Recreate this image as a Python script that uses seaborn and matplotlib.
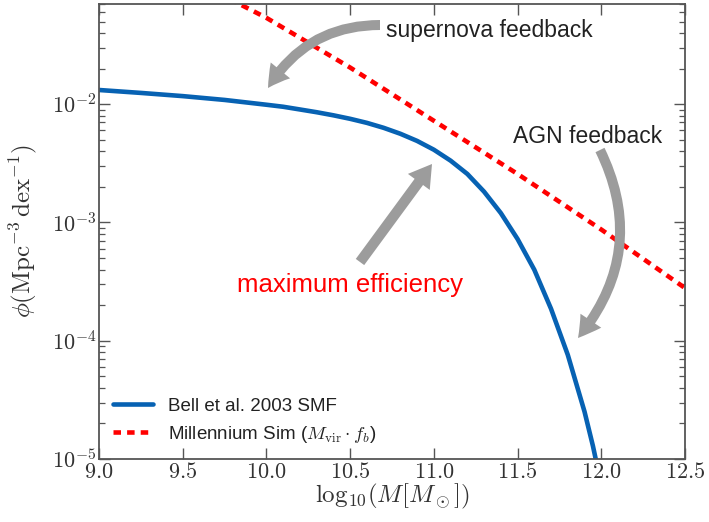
import matplotlib
matplotlib.use("Agg")
import matplotlib.pyplot as plt
import seaborn as sns
from matplotlib.patches import ArrowStyle
from matplotlib.ticker import FixedLocator, FuncFormatter, LogLocator, NullFormatter
import numpy as np

# ---- data ----
bell_logm = [9.0, 9.25, 9.5, 9.75, 10.0, 10.1, 10.2, 10.3, 10.4, 10.5, 10.6, 10.7,
             10.8, 10.9, 11.0, 11.1, 11.2, 11.3, 11.4, 11.5, 11.6, 11.7, 11.8,
             11.9, 11.95, 12.0]
bell_phi = [1.318e-2, 1.245e-2, 1.170e-2, 1.086e-2, 9.89e-3, 9.51e-3, 9.02e-3,
            8.55e-3, 8.05e-3, 7.52e-3, 6.95e-3, 6.31e-3, 5.62e-3, 4.89e-3,
            4.12e-3, 3.33e-3, 2.57e-3, 1.82e-3, 1.20e-3, 7.24e-4, 3.98e-4,
            1.86e-4, 7.59e-5, 2.51e-5, 1.29e-5, 6.03e-6]

mill_logm = [9.6, 9.8, 10.0, 10.5, 11.0, 11.5, 12.0, 12.5]
mill_phi = [0.1047, 0.0750, 0.0537, 0.0204, 7.24e-3, 2.57e-3, 8.71e-4, 2.79e-4]

x_ticks = [9.0, 9.5, 10.0, 10.5, 11.0, 11.5, 12.0, 12.5]
label_bell = "Bell et al. 2003 SMF"
label_mill = r"Millennium Sim ($M_{\rm vir}\cdot f_b$)"

# ---- style ----
sns.set_style("ticks")
plt.rcParams["font.family"] = ["Liberation Sans", "DejaVu Sans"]
plt.rcParams["mathtext.fontset"] = "cm"

W, H = 709, 522
fig = plt.figure(figsize=(W / 100, H / 100), dpi=100)
L, R, T, B = 99, 685, 4, 459
ax = fig.add_axes([L / W, (H - B) / H, (R - L) / W, (B - T) / H])

blue = "#0762b3"
red = "#ff0000"
LW = 3.3
sns.lineplot(x=bell_logm, y=bell_phi, ax=ax, color=blue, lw=LW, label=label_bell)
sns.lineplot(x=mill_logm, y=mill_phi, ax=ax, color=red, lw=LW, label=label_mill)
ln = ax.get_lines()[-1]
ln.set_dashes([5.4 / LW, 4.4 / LW])
ln.set_dash_capstyle("butt")

ax.set_yscale("log")
ax.set_xlim(9.0, 12.5)
ax.set_ylim(1e-5, 0.0703)

ax.xaxis.set_major_locator(FixedLocator(x_ticks))
ax.xaxis.set_major_formatter(FuncFormatter(lambda v, p: r"$\mathrm{%.1f}$" % v))
ax.yaxis.set_major_locator(LogLocator(base=10))
ax.yaxis.set_minor_locator(LogLocator(base=10, subs=np.arange(2, 10)))
ax.yaxis.set_minor_formatter(NullFormatter())
ax.yaxis.set_major_formatter(FuncFormatter(lambda v, p: r"$\mathrm{10^{%d}}$" % int(round(np.log10(v)))))

spine_col = "#555555"
for s in ax.spines.values():
    s.set_visible(True)
    s.set_color(spine_col)
    s.set_linewidth(1.3)
ax.tick_params(which="both", direction="in", top=True, right=True, color=spine_col,
               labelcolor="#333333", labelsize=16)
ax.tick_params(which="major", length=8, width=1.0, pad=2)
ax.tick_params(which="minor", length=4.5, width=0.9)

ax.set_xlabel(r"$\mathrm{log}_{10}(M[M_\odot])$", fontsize=18, color="#333333")
ax.set_ylabel(r"$\phi(\mathrm{Mpc}^{-3}\,\mathrm{dex}^{-1})$", fontsize=18, color="#333333")
ax.yaxis.set_label_coords((39 - L) / (R - L), 0.5)
ax.xaxis.set_label_coords(0.5, (B - 482) / (B - T))

leg = ax.legend(loc="lower left", frameon=False, fontsize=13.5, handlelength=2.15,
                handletextpad=0.8, borderaxespad=0.35, labelspacing=0.5)
for t in leg.get_texts():
    t.set_color("#222222")


def fr(px, py):
    return ((px - L) / (R - L), (B - py) / (B - T))


arrow_col = "#9c9c9c"
style = ArrowStyle("simple", head_length=1.55, head_width=1.8, tail_width=0.72)

# supernova feedback arrow
ax.annotate("", xy=fr(268, 88), xytext=fr(380, 25), xycoords="axes fraction",
            textcoords="axes fraction",
            arrowprops=dict(arrowstyle=style, connectionstyle="arc3,rad=0.28",
                            color=arrow_col, lw=0, shrinkA=0, shrinkB=0,
                            mutation_scale=10))
# AGN feedback arrow
ax.annotate("", xy=fr(578, 338), xytext=fr(600, 150), xycoords="axes fraction",
            textcoords="axes fraction",
            arrowprops=dict(arrowstyle=style, connectionstyle="arc3,rad=-0.32",
                            color=arrow_col, lw=0, shrinkA=0, shrinkB=0,
                            mutation_scale=10))
# maximum efficiency arrow
ax.annotate("", xy=fr(432, 164), xytext=fr(360, 262), xycoords="axes fraction",
            textcoords="axes fraction",
            arrowprops=dict(arrowstyle=ArrowStyle("simple", head_length=1.6,
                                                  head_width=1.95, tail_width=0.75),
                            color=arrow_col, lw=0, shrinkA=0, shrinkB=0,
                            mutation_scale=10))

ax.text(*fr(386, 37), "supernova feedback", transform=ax.transAxes, fontsize=16.5,
        color="#222222", ha="left", va="baseline")
ax.text(*fr(513, 143), "AGN feedback", transform=ax.transAxes, fontsize=16.5,
        color="#222222", ha="left", va="baseline")
ax.text(*fr(237, 292), "maximum efficiency", transform=ax.transAxes, fontsize=18.5,
        color=red, ha="left", va="baseline")

fig.savefig("out.png", dpi=100)
